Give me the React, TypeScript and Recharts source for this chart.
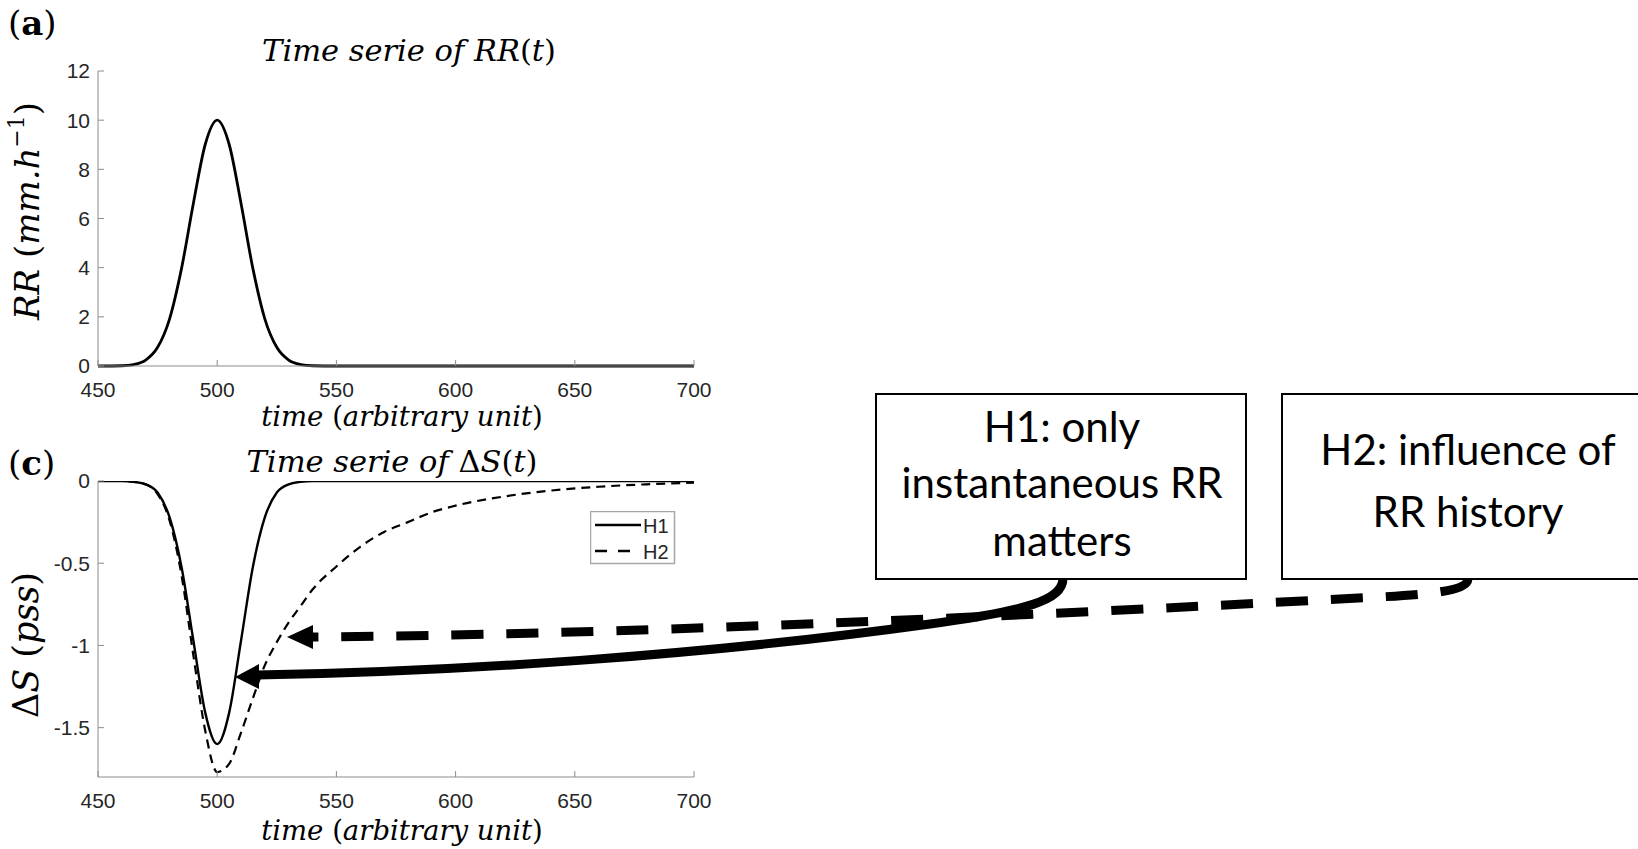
import React from 'react';
import { LineChart, Line, XAxis, YAxis, Legend } from 'recharts';

// (a) rain rate time series
const rrTime = [450, 460, 465, 470, 475, 480, 485, 490, 495, 500, 505, 510, 515, 520, 525, 530, 535, 540, 550, 600, 650, 700];
const rrValue = [0, 0.01, 0.06, 0.24, 0.76, 1.91, 3.95, 6.61, 9.02, 10, 9.02, 6.61, 3.95, 1.91, 0.76, 0.24, 0.06, 0.01, 0, 0, 0, 0];

// (c) delta S for both hypotheses
const dsTime = [450, 460, 465, 470, 475, 480, 485, 490, 495, 500, 505, 510, 515, 520, 525, 530, 535, 540, 550, 560, 570, 580, 590, 600, 620, 640, 660, 680, 700];
const dsH1 = [0, 0, -0.005, -0.02, -0.07, -0.22, -0.52, -0.97, -1.41, -1.6, -1.41, -0.97, -0.52, -0.22, -0.07, -0.02, -0.005, 0, 0, 0, 0, 0, 0, 0, 0, 0, 0, 0, 0];
const dsH2 = [0, 0, -0.005, -0.02, -0.08, -0.24, -0.57, -1.06, -1.52, -1.77, -1.72, -1.53, -1.32, -1.12, -0.98, -0.86, -0.76, -0.66, -0.52, -0.4, -0.31, -0.25, -0.19, -0.15, -0.095, -0.058, -0.035, -0.02, -0.01];

const timeTicks = [450, 500, 550, 600, 650, 700];
const rrTicks = [0, 2, 4, 6, 8, 10, 12];
const dsTicks = [-1.5, -1, -0.5, 0];

const rrData = rrTime.map((t, i) => ({ t, rr: rrValue[i] }));
const dsData = dsTime.map((t, i) => ({ t, h1: dsH1[i], h2: dsH2[i] }));

const axisStroke = '#8c8c8c';
const tickStyle = { fontFamily: '"Liberation Sans", Arial, sans-serif', fontSize: 21, fill: '#262626' };
const mathFont = '"DejaVu Serif", serif';
const boxFont = 'Lato, "Open Sans", sans-serif';

const LegendBox = () => (
  <svg width={86} height={54} style={{ display: 'block' }}>
    <rect x={0.5} y={0.5} width={84} height={52} fill="#fff" stroke="#a6a6a6" strokeWidth={1.5} />
    <line x1={5} y1={14} x2={51} y2={14} stroke="#000" strokeWidth={2.5} />
    <text x={53} y={15} dominantBaseline="central" fontFamily={tickStyle.fontFamily} fontSize={20} fill="#262626">H1</text>
    <line x1={5} y1={40} x2={51} y2={40} stroke="#000" strokeWidth={2.5} strokeDasharray="12 11" />
    <text x={53} y={41} dominantBaseline="central" fontFamily={tickStyle.fontFamily} fontSize={20} fill="#262626">H2</text>
  </svg>
);

const App = () => {
  return (
    <div style={{ position: 'absolute', left: 0, top: 0, width: 1638, height: 849, background: '#fff', overflow: 'hidden' }}>
      {/* (a) */}
      <div style={{ position: 'absolute', left: 0, top: 0 }}>
        <LineChart width={720} height={430} data={rrData} margin={{ top: 71, right: 26, bottom: 4, left: 0 }}>
          <XAxis dataKey="t" type="number" domain={[450, 700]} ticks={timeTicks} stroke={axisStroke}
            tickSize={-6} tickMargin={22} height={60} tick={tickStyle} />
          <YAxis type="number" domain={[0, 12]} ticks={rrTicks} stroke={axisStroke}
            tickSize={-6} tickMargin={14} width={98} tick={tickStyle} />
          <Line dataKey="rr" type="monotone" stroke="#000" strokeWidth={2.8} dot={false} isAnimationActive={false} />
        </LineChart>
      </div>

      {/* (c) */}
      <div style={{ position: 'absolute', left: 0, top: 430 }}>
        <LineChart width={720} height={419} data={dsData} margin={{ top: 51, right: 26, bottom: 12, left: 0 }}>
          <XAxis dataKey="t" type="number" domain={[450, 700]} ticks={timeTicks} stroke={axisStroke}
            tickSize={-6} tickMargin={22} height={60} tick={tickStyle} />
          <YAxis type="number" domain={[-1.8, 0]} ticks={dsTicks} stroke={axisStroke} allowDataOverflow
            tickSize={-6} tickMargin={14} width={98} tick={tickStyle} />
          <Line dataKey="h1" name="H1" type="monotone" stroke="#000" strokeWidth={2.4} dot={false} isAnimationActive={false} />
          <Line dataKey="h2" name="H2" type="monotone" stroke="#000" strokeWidth={2.2} strokeDasharray="9 6" dot={false} isAnimationActive={false} />
          <Legend layout="vertical" align="center" verticalAlign="middle" content={<LegendBox />}
            wrapperStyle={{ left: 590, top: 81, width: 86, height: 54 }} />
        </LineChart>
      </div>

      {/* titles, labels, hypothesis boxes and arrows */}
      <svg width={1638} height={849} style={{ position: 'absolute', left: 0, top: 0, pointerEvents: 'none' }}>
        <text x={8} y={23} dominantBaseline="central" fontFamily={mathFont} fontSize={34} fill="#000">
          (<tspan fontWeight="bold">a</tspan>)
        </text>
        <text x={409} y={50} textAnchor="middle" dominantBaseline="central" fontFamily={mathFont} fontStyle="italic" fontSize={30.5} fill="#000">
          Time serie of RR<tspan fontStyle="normal">(</tspan>t<tspan fontStyle="normal">)</tspan>
        </text>
        <text x={402} y={416} textAnchor="middle" dominantBaseline="central" fontFamily={mathFont} fontStyle="italic" fontSize={27.5} fill="#000">
          time <tspan fontStyle="normal">(</tspan>arbitrary unit<tspan fontStyle="normal">)</tspan>
        </text>
        <text x={27} y={211} transform="rotate(-90 27 211)" textAnchor="middle" dominantBaseline="central" fontFamily={mathFont} fontStyle="italic" fontSize={34} fill="#000">
          RR <tspan fontStyle="normal">(</tspan>mm.h<tspan fontStyle="normal" fontSize={22} dy={-11}>−1</tspan><tspan fontStyle="normal" dy={11}>)</tspan>
        </text>

        <text x={8} y={463} dominantBaseline="central" fontFamily={mathFont} fontSize={34} fill="#000">
          (<tspan fontWeight="bold">c</tspan>)
        </text>
        <text x={392} y={461} textAnchor="middle" dominantBaseline="central" fontFamily={mathFont} fontStyle="italic" fontSize={30.5} fill="#000">
          Time serie of <tspan fontStyle="normal">Δ</tspan>S<tspan fontStyle="normal">(</tspan>t<tspan fontStyle="normal">)</tspan>
        </text>
        <text x={402} y={830} textAnchor="middle" dominantBaseline="central" fontFamily={mathFont} fontStyle="italic" fontSize={27.5} fill="#000">
          time <tspan fontStyle="normal">(</tspan>arbitrary unit<tspan fontStyle="normal">)</tspan>
        </text>
        <text x={26} y={645} transform="rotate(-90 26 645)" textAnchor="middle" dominantBaseline="central" fontFamily={mathFont} fontStyle="italic" fontSize={35} fill="#000">
          <tspan fontStyle="normal">Δ</tspan>S <tspan fontStyle="normal">(</tspan>pss<tspan fontStyle="normal">)</tspan>
        </text>

        {/* hypothesis boxes */}
        <rect x={876} y={394} width={370} height={185} fill="#fff" stroke="#000" strokeWidth={2} />
        <text textAnchor="middle" fontFamily={boxFont} fontSize={42} fill="#000">
          <tspan x={1062} y={442}>H1: only</tspan>
          <tspan x={1062} y={498}>instantaneous RR</tspan>
          <tspan x={1062} y={556}>matters</tspan>
        </text>
        <rect x={1282} y={394} width={380} height={185} fill="#fff" stroke="#000" strokeWidth={2} />
        <text textAnchor="middle" fontFamily={boxFont} fontSize={42} fill="#000">
          <tspan x={1468} y={465}>H2: influence of</tspan>
          <tspan x={1468} y={527}>RR history</tspan>
        </text>

        {/* arrows */}
        <path d="M1468,579 C1467,593 1420,595 1340,599 C1000,617 600,635 312,637" fill="none" stroke="#000" strokeWidth={9} strokeDasharray="32 23" />
        <polygon points="287,637 313,625 313,649" fill="#000" />
        <path d="M1063,579 C1062,600 1030,610 930,624 C700,656 450,672 257,675" fill="none" stroke="#000" strokeWidth={9} />
        <polygon points="235,677 259,664 259,689" fill="#000" />
      </svg>
    </div>
  );
};

export default App;
